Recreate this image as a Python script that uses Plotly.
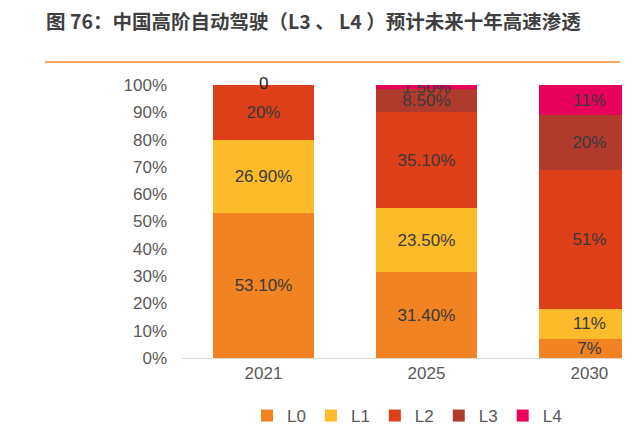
import plotly.graph_objects as go

years = ["2021", "2025", "2030"]
series_names = ["L0", "L1", "L2", "L3", "L4"]
L0 = [53.1, 31.4, 7]
L1 = [26.9, 23.5, 11]
L2 = [20, 35.1, 51]
L3 = [0, 8.5, 20]
L4 = [0, 1.5, 11]
labels = {
    "L0": ["53.10%", "31.40%", "7%"],
    "L1": ["26.90%", "23.50%", "11%"],
    "L2": ["20%", "35.10%", "51%"],
    "L3": ["", "8.50%", "20%"],
    "L4": ["", "1.50%", "11%"],
}
zero_label = "0"
colors = {"L0": "#F28322", "L1": "#FBBB2B", "L2": "#DE3F1B", "L3": "#B03B2C", "L4": "#E8005A"}
yticks = [0, 10, 20, 30, 40, 50, 60, 70, 80, 90, 100]
ytick_text = [f"{v}%" for v in yticks]

values = {"L0": L0, "L1": L1, "L2": L2, "L3": L3, "L4": L4}
FONT = "Liberation Sans, Arial"

fig = go.Figure()
for name in series_names:
    fig.add_trace(go.Bar(
        x=years, y=values[name], name=name,
        marker=dict(color=colors[name], line=dict(width=0)),
        text=labels[name], textposition="inside", insidetextanchor="middle",
        textangle=0, constraintext="none",
        textfont=dict(family=FONT, size=17, color="#3A3A3A"),
        hoverinfo="skip",
    ))

# page offset (default body margin of the html page)
OFF = 8
L_PLOT, R_PLOT, T_PLOT, B_PLOT = 182 - OFF, 622 - OFF, 85 - OFF, 358 - OFF
W, H = 641, 434
pw, ph = R_PLOT - L_PLOT, B_PLOT - T_PLOT

def px_to_paper_x(px):
    return (px - OFF - L_PLOT) / pw

def px_to_paper_y(py):
    return (B_PLOT - (py - OFF)) / ph

fig.add_annotation(x=0, xref="x", y=px_to_paper_y(83), yref="paper", text=zero_label,
                   showarrow=False, yanchor="middle",
                   font=dict(family=FONT, size=17, color="#222222"))

fig.add_annotation(xref="paper", yref="paper", x=px_to_paper_x(44), y=px_to_paper_y(21),
                   xanchor="left", yanchor="middle", showarrow=False,
                   text="<b>图 76：中国高阶自动驾驶（L3 、 L4 ）预计未来十年高速渗透</b>",
                   font=dict(family="Noto Sans CJK SC", size=19.5, color="#3F3F3F"))
fig.add_shape(type="line", xref="paper", yref="paper",
              x0=px_to_paper_x(45), x1=px_to_paper_x(620),
              y0=px_to_paper_y(62), y1=px_to_paper_y(62),
              line=dict(color="#F08A2C", width=1.5))

fig.update_layout(
    barmode="stack", bargap=0.385,
    width=W, height=H,
    margin=dict(l=L_PLOT, r=W - R_PLOT, t=T_PLOT, b=H - B_PLOT, pad=0, autoexpand=False),
    paper_bgcolor="white", plot_bgcolor="white",
    font=dict(family=FONT, color="#595959", size=17),
    legend=dict(orientation="h", x=px_to_paper_x(407), xanchor="center",
                y=px_to_paper_y(416), yanchor="middle",
                font=dict(size=17, color="#595959"), itemwidth=30,
                traceorder="normal"),
    xaxis=dict(type="category", range=[-0.5, 2.2], showline=True, linecolor="#D9D9D9",
               linewidth=1, ticks="", tickfont=dict(size=17, color="#595959"), showgrid=False),
    yaxis=dict(range=[0, 100], tickvals=yticks, ticktext=ytick_text, showgrid=False,
               zeroline=False, showline=False, ticks="", ticklabelstandoff=14,
               tickfont=dict(size=17, color="#595959")),
    uniformtext=dict(mode=False),
)

fig.write_html("out.html")
